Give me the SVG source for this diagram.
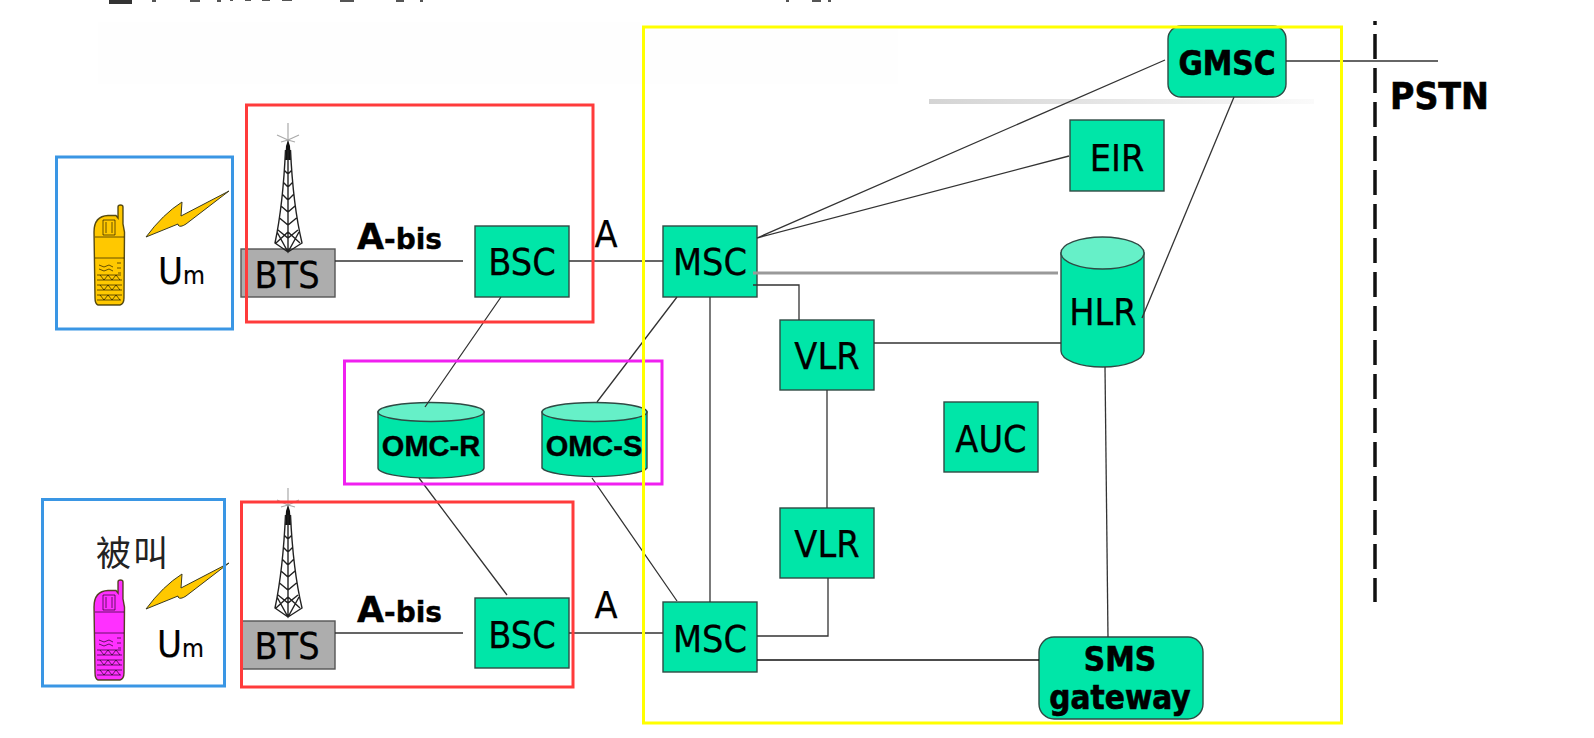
<svg xmlns="http://www.w3.org/2000/svg" xmlns:xlink="http://www.w3.org/1999/xlink" width="1594" height="738" viewBox="0 0 1594 738">
<style>
text{fill:#000}
.n{font-family:"DejaVu Sans Condensed","DejaVu Sans",sans-serif;font-size:37.500px;text-anchor:middle;stroke:#000;stroke-width:.25}
.b{font-family:"DejaVu Sans Condensed","DejaVu Sans",sans-serif;font-size:33px;font-weight:700;text-anchor:middle;stroke:#000;stroke-width:.6}
.o{font-family:"Liberation Sans",Arial,sans-serif;font-size:29px;font-weight:700;text-anchor:middle;stroke:#000;stroke-width:.4}
.ab{font-family:"DejaVu Sans",sans-serif;font-size:35px;font-weight:700;stroke:#000;stroke-width:.4}
.ab2{font-size:28px}
.um{font-family:"DejaVu Sans Condensed","DejaVu Sans",sans-serif;font-size:38px;stroke:#000;stroke-width:.2}
.um2{font-size:25px}
.box{fill:#00e6a8;stroke:#2f4a44;stroke-width:1.4}
.top{fill:#66f0c8;stroke:#2f4a44;stroke-width:1.4}
.bts{fill:#adadad;stroke:#555;stroke-width:1.4}
.c{fill:none;stroke:#333;stroke-width:1.3}
.t{fill:none;stroke:#999;stroke-width:3}
.fr{fill:none;stroke-width:3}
.tw{fill:none;stroke:#222;stroke-width:1.4}
.tg{fill:none;stroke:#aaa;stroke-width:1.2}
.pd{fill:none;stroke:#000;stroke-opacity:.6;stroke-width:1}
</style>
<defs>
<linearGradient id="sm" x1="0" x2="1" y1="0" y2="0"><stop offset="0" stop-color="#d4d4d4"/><stop offset=".6" stop-color="#ebebeb"/><stop offset="1" stop-color="#fafafa"/></linearGradient>
<g id="phone">
<path d="M94 232Q94 216 108 215.500L116 215.500L118 218L118 207Q118 205 120.500 205Q123 205 123 207L123 224L124.500 232L124 298Q124 304 120 305L98 305Q95 304 95 298Z" stroke="#3a3000" stroke-opacity=".85" stroke-width="1.400"/>
<path class="pd" d="M103 220h12v15h-12zM106 222v11M112 222v11M95 237h29M95 258h29M99 265l5 2 5-2 4 2M99 269l5 2 5-2 4 2M117 263h4M117 268h4M118 273h3M97 275h24M97 280h25M97 285h25M97 290h25M97 295h25M97 300h24M100 275l4 5 4-5 4 5 4-5 4 5M100 285l4 5 4-5 4 5 4-5 4 5M100 295l4 5 4-5 4 5 4-5 4 5"/>
</g>
<path id="bolt" d="M146 237Q163 214 182 202L181 216L229 191L186 224Q180 228 178 225L178 224Z" fill="#ffc800" stroke="#3a3a20" stroke-width="1"/>
<g id="tower">
<path class="tg" d="M288 123V148M288 140L277 135M288 140L299 135M288 140L281 142M288 140L295 142"/>
<path d="M286 146L288 140L290 146L291 160L285 160Z" fill="#111"/>
<path class="tw" d="M285.500 150Q283 205 275 243L288 252L302 243Q293 205 290.500 150M288 150V252M284 170L288 174L292 170M283 182L288 187L293 182M282 194L288 200L294 194M281 206L288 212L295 206M279.500 218L288 225L296.500 218M278 230L288 238L298 230M276 243L288 232L300 243M277 232L288 252L299 232"/>
</g>
</defs>

<rect x="98" y="22" width="800" height="62" fill="#fefefe"/>
<g id="clipped-header-marks" fill="#555">
<rect x="109" y="0" width="23" height="4" fill="#333"/>
<rect x="152" y="0" width="4" height="2"/><rect x="190" y="0" width="10" height="2"/><rect x="217" y="0" width="4" height="2"/><rect x="230" y="0" width="3" height="1"/><rect x="245" y="0" width="6" height="1"/><rect x="262" y="0" width="8" height="1"/><rect x="282" y="0" width="10" height="1"/><rect x="340" y="0" width="14" height="2"/><rect x="396" y="0" width="8" height="2"/><rect x="420" y="0" width="3" height="2"/><rect x="786" y="0" width="3" height="2"/><rect x="812" y="0" width="9" height="2"/><rect x="828" y="0" width="3" height="2"/>
</g>
<rect x="929" y="99" width="385" height="5" fill="url(#sm)"/>

<g id="phone-caller">
<use xlink:href="#phone" href="#phone" fill="#ffc800"/>
<use xlink:href="#bolt" href="#bolt"/>
<text class="um" x="158" y="284">U<tspan class="um2">m</tspan></text>
</g>
<g id="phone-callee">
<use xlink:href="#phone" href="#phone" fill="#ff30ff" transform="translate(0 375)"/>
<use xlink:href="#bolt" href="#bolt" transform="translate(0 372)"/>
<text x="96" y="566" font-family="'Noto Sans CJK SC',sans-serif" font-size="35" letter-spacing="2" style="fill:#222">被叫</text>
<text class="um" x="157" y="657">U<tspan class="um2">m</tspan></text>
</g>

<g id="bts1"><rect class="bts" x="241" y="249" width="94" height="48"/><use xlink:href="#tower" href="#tower"/><text class="n" x="287" y="288">BTS</text></g>
<g id="bts2"><rect class="bts" x="242" y="621" width="93" height="48"/><use xlink:href="#tower" href="#tower" transform="translate(0 365)"/><text class="n" x="287" y="659">BTS</text></g>
<g id="bsc1"><rect class="box" x="475" y="226" width="94" height="71"/><text class="n" x="522" y="275">BSC</text></g>
<g id="bsc2"><rect class="box" x="475" y="598" width="94" height="70"/><text class="n" x="522" y="648">BSC</text></g>
<g id="msc1"><rect class="box" x="663" y="226" width="94" height="71"/><text class="n" x="710" y="275">MSC</text></g>
<g id="msc2"><rect class="box" x="663" y="602" width="94" height="70"/><text class="n" x="710" y="652">MSC</text></g>
<g id="vlr1"><rect class="box" x="780" y="320" width="94" height="70"/><text class="n" x="827" y="369">VLR</text></g>
<g id="vlr2"><rect class="box" x="780" y="508" width="94" height="70"/><text class="n" x="827" y="557">VLR</text></g>
<g id="auc"><rect class="box" x="944" y="402" width="94" height="70"/><text class="n" x="991" y="452">AUC</text></g>
<g id="eir"><rect class="box" x="1070" y="120" width="94" height="71"/><text class="n" x="1117" y="171">EIR</text></g>
<g id="hlr"><path class="box" d="M1061 253V351A41.500 16 0 0 0 1144 351V253Z"/><ellipse class="top" cx="1102.500" cy="253" rx="41.500" ry="16"/><text class="n" x="1103" y="325">HLR</text></g>
<g id="omc-r"><path class="box" d="M378 412V468A53 10 0 0 0 484 468V412Z"/><ellipse class="top" cx="431" cy="412" rx="53" ry="9.500"/><text class="o" x="431" y="456">OMC-R</text></g>
<g id="omc-s"><path class="box" d="M542 412V468A53 10 0 0 0 647 468V412Z"/><ellipse class="top" cx="594.500" cy="412" rx="52.500" ry="9.500"/><text class="o" x="594" y="456">OMC-S</text></g>
<g id="gmsc"><rect class="box" x="1168" y="26" width="118" height="71" rx="13"/><text class="b" x="1227" y="75">GMSC</text></g>
<g id="sms"><rect class="box" x="1039" y="637" width="164" height="82" rx="15"/><text class="b" x="1120" y="671">SMS</text><text class="b" x="1120" y="709">gateway</text></g>

<g id="connectors">
<path class="c" d="M335 261H463M569 261H663"/>
<path class="c" d="M335 633H463M569 633H663"/>
<path class="c" d="M501 297L425 407M677 297L597 402M419 478L507 595M592 478L677 601"/>
<path class="c" d="M710 297V602"/>
<path class="c" d="M757 238L1165 60M757 238L1069 156"/>
<path class="t" d="M753 273H1058"/>
<path class="c" d="M753 285H799V320"/>
<path class="c" d="M874 343H1061"/>
<path class="c" d="M827 390V508"/>
<path class="c" d="M757 636H828V578"/>
<path class="c" style="stroke:#111" d="M757 660H1039"/>
<path class="c" d="M1105 367L1108 637"/>
<path class="c" d="M1142 318L1234 97"/>
<path class="c" d="M1286 61H1438"/>
<path fill="none" stroke="#111" stroke-width="3.500" stroke-dasharray="25 9" stroke-dashoffset="21" d="M1375 21V602"/>
</g>

<g id="labels">
<text class="ab" x="357" y="249">A<tspan class="ab2">-bis</tspan></text>
<text class="ab" x="357" y="622">A<tspan class="ab2">-bis</tspan></text>
<text class="n" x="606" y="247">A</text>
<text class="n" x="606" y="618">A</text>
<text class="b" x="1390" y="109" style="text-anchor:start;font-size:37px">PSTN</text>
</g>

<g id="frames">
<rect class="fr" x="56.500" y="157" width="176" height="172" stroke="#3a96e4"/>
<rect class="fr" x="42.500" y="499.500" width="182" height="186.500" stroke="#3a96e4"/>
<rect class="fr" x="246.500" y="105" width="346.500" height="217" stroke="#ff3b3b"/>
<rect class="fr" x="241.500" y="502" width="331.500" height="185" stroke="#ff3b3b"/>
<rect class="fr" x="344.500" y="361" width="317.500" height="123" stroke="#f020f0"/>
<rect class="fr" x="643.500" y="27" width="698" height="696" stroke="#ffff00"/>
</g>
</svg>
